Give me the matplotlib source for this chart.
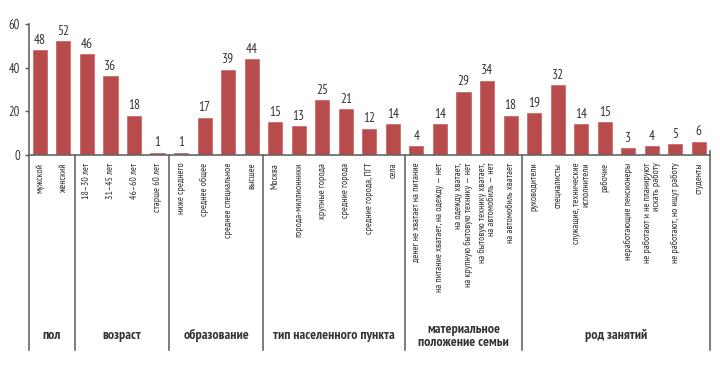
import matplotlib.pyplot as plt
from matplotlib import font_manager

names = {f.name for f in font_manager.fontManager.ttflist}
narrow = 'DejaVu Sans'
for cand in ['PT Sans Narrow', 'Fira Sans Condensed', 'Roboto Condensed',
             'Open Sans Condensed', 'Ubuntu Condensed', 'Liberation Sans Narrow']:
    if cand in names:
        narrow = cand
        break
plt.rcParams['font.family'] = [narrow, 'DejaVu Sans']

groups = ["пол", "возраст", "образование", "тип населенного пункта",
          "материальное\nположение семьи", "род занятий"]

labels_sex = ["мужской", "женский"]
values_sex = [48, 52]

labels_age = ["18–30 лет", "31–45 лет", "46–60 лет", "старше 60 лет"]
values_age = [46, 36, 18, 1]

labels_edu = ["ниже среднего", "среднее общее", "среднее специальное", "высшее"]
values_edu = [1, 17, 39, 44]

labels_town = ["Москва", "города-миллионники", "крупные города", "средние города",
               "средние города, ПГТ", "села"]
values_town = [15, 13, 25, 21, 12, 14]

labels_money = ["денег не хватает на питание",
                "на питание хватает, на одежду — нет",
                "на одежду хватает,\nна крупную бытовую технику — нет",
                "на бытовую технику хватает,\nна автомобиль — нет",
                "на автомобиль хватает"]
values_money = [4, 14, 29, 34, 18]

labels_job = ["руководители", "специалисты", "служащие, технические\nисполнители",
              "рабочие", "неработающие пенсионеры",
              "не работают и не планируют\nискать работу",
              "не работают, но ищут работу", "студенты"]
values_job = [19, 32, 14, 15, 3, 4, 5, 6]

all_labels = [labels_sex, labels_age, labels_edu, labels_town, labels_money, labels_job]
all_values = [values_sex, values_age, values_edu, values_town, values_money, values_job]

bar_color = '#b84b4b'
text_color = '#333333'

fig = plt.figure(figsize=(7.2, 3.67), dpi=100)
ax = fig.add_axes([0.040, 0.578, 0.946, 0.357])

labels = [l for g in all_labels for l in g]
values = [v for g in all_values for v in g]
x = list(range(len(values)))

ax.bar(x, values, width=0.6, color=bar_color, edgecolor='#c96060', linewidth=0.5)
for xi, v in zip(x, values):
    ax.text(xi, v + 1.5, str(v), ha='center', va='bottom', fontsize=9.5, color=text_color)

ax.set_xlim(-0.47, len(values) - 0.53)
ax.set_ylim(0, 60)
ax.set_yticks([0, 20, 40, 60])
ax.tick_params(axis='y', labelsize=9, colors='#555555', length=3, width=1,
               labelcolor=text_color)
ax.set_xticks([])
for s in ['top', 'right']:
    ax.spines[s].set_visible(False)
ax.spines['left'].set_color('#666666')
ax.spines['bottom'].set_color('#666666')
ax.spines['left'].set_linewidth(1.2)
ax.spines['bottom'].set_linewidth(1.2)

trans = ax.get_xaxis_transform()
for xi, lab in zip(x, labels):
    ax.text(xi, -0.06, lab, rotation=90, ha='center', va='top', multialignment='right',
            fontsize=7, color=text_color, transform=trans, linespacing=1.0)

# group separators and names
bottom = -1.49
start = 0
edges = [-0.47]
for g in all_values:
    start += len(g)
    edges.append(start - 0.5)
edges[-1] = len(values) - 0.53
for e in edges:
    ax.plot([e, e], [0, bottom], transform=trans, color='#666666', lw=1.2, clip_on=False)
ax.plot([edges[-1], edges[-1]], [0, 0.03], transform=trans, color='#666666', lw=1.2, clip_on=False)

start = 0
for name, g in zip(groups, all_values):
    mid = start + (len(g) - 1) / 2
    ax.text(mid, -1.38, name, ha='center', va='center', fontsize=10, fontweight='bold',
            color=text_color, transform=trans, linespacing=1.0)
    start += len(g)

fig.savefig('out.png', dpi=100)
